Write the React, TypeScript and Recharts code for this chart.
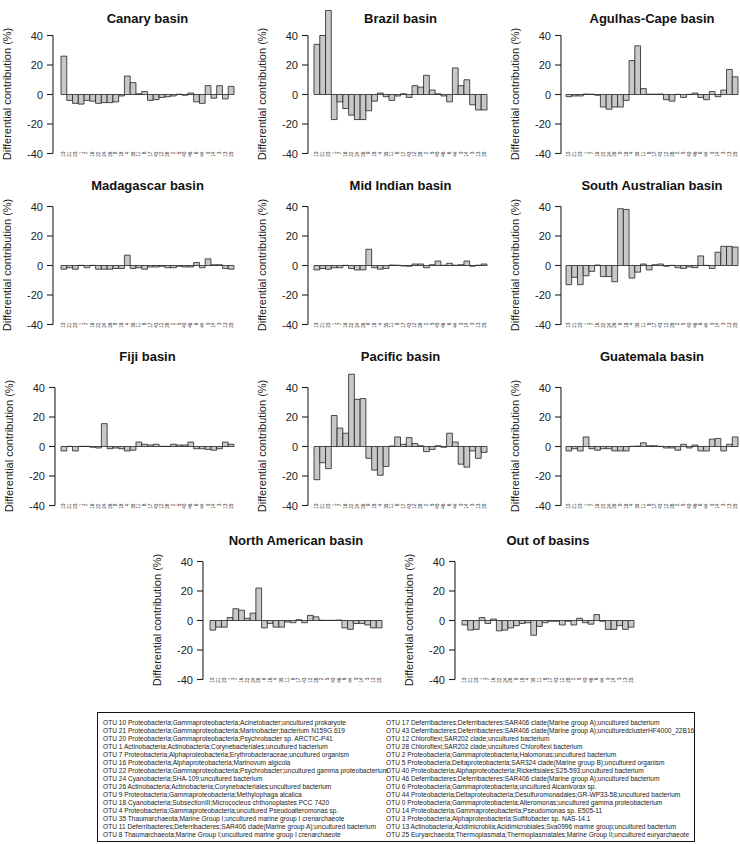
import React from 'react';
import { BarChart, Bar, XAxis, YAxis } from 'recharts';

const otuLabels = ['10','21','20','1','7','16','22','24','26','9','18','4','35','11','8','17','43','12','28','2','5','40','46','6','44','0','14','3','13','25'];
const yTicks = [-40, -20, 0, 20, 40];

const canaryBasin = [26, -4, -6, -6.5, -4, -4.5, -6, -5.5, -5.5, -5, -1, 12.5, 8, 0.5, 2, -4, -3.5, -2, -1.5, -1, 0.2, -0.5, 1, -5, -6, 6, -2.5, 6, -3, 5.5];
const brazilBasin = [34, 40, 57, -17, -5, -9.5, -14, -17, -17, -11, -4.5, 1, -1.5, -4, -1, 0.5, -2, 6, 5, 13, 3, 0.5, -1, -5, 18, 6, 10, -7, -10.5, -10.5];
const agulhasCapeBasin = [-1.5, -1, -1, 0.3, 0.2, -0.5, -8.5, -10, -8.5, -8.5, -4, 23, 33, 4, 0.2, 0.2, 0.3, -3.5, -4.5, 0.1, -2, 0.1, 1, -2, -3.5, 2, -1.5, 3, 17, 12];
const madagascarBasin = [-2.5, -1.5, -2.5, 0.1, -1.5, 0.1, -2.5, -2.5, -2.5, -2, -2, 7, -2, -1.5, -2.5, -1, -1, -0.5, -1.5, -1.5, -0.5, -1, -1, 2, -1.5, 4.5, 0.5, 0.5, -2, -2.5];
const midIndianBasin = [-3, -2, -2.5, -1.5, -1.5, 0.1, -2, -3, -3, 11, -1.5, -2.5, -2, 0.3, 0.2, -0.3, -0.5, 1, 1, -1.5, 0.5, 3, 0.2, 1.5, 0.2, 0.5, 3, -0.5, 0.2, 1];
const southAustralianBasin = [-13, -8, -13, -7, -4, 0.3, -7.5, -7.5, -11, 38.5, 38, -8.5, -4.5, 1, -3, 0.5, 1, -0.5, 0.1, -1.5, -2, -1, -1.5, 6.5, 0.1, -2, 9, 13, 13, 12.5];
const fijiBasin = [-3, 0.1, -3, 0.1, 0.1, -0.5, -1, 15.5, -1.5, -1, -1.5, -3, -2.5, 3, 1.5, 1, 1.5, 0.1, 0.1, 1.5, 1, 1, 3, -1.5, -1.5, -2, -2.5, -1.5, 3, 1.5];
const pacificBasin = [-22.5, -11, -15, 21, 12.5, 9, 49, 32, 32.5, -8, -16, -19.5, -13.5, 0.3, 6.5, 1.5, 6, 2, 0.5, -3.5, -2, 0.5, -0.5, 9, 3, -12, -14, -3, -8, -4];
const guatemalaBasin = [-3, -1.5, -3, 6.5, -1.5, -2.5, -1.5, -1.5, -3, -3, -3, 0.1, 0.3, 2.5, 0.5, 0.5, 0.1, -1, -1, -2.5, 1.5, -1, 1, -3, -3, 5, 5.5, -3, 1.5, 6.5];
const northAmericanBasin = [-6.5, -4.5, -4.5, 2, 8, 7, 1.5, 5, 22, -5, -2, -4.5, -4.5, -1, -1.5, 0.5, -1.5, 3.5, 2.5, 0.2, 0.1, 0.1, 0.3, -5, -6, -2, -2, -3, -5, -5];
const outOfBasins = [-3, -6.5, -6, 2, -2, 1, -7, -6.5, -5, -3.5, -2, -1.5, -10, -4, -1.5, -0.5, -0.5, -3, -0.5, -3, 1.5, -1.5, -2.5, 4, -0.5, -6, -6, -3.5, -6, -4.5];

const legendLeft = [
  'OTU 10 Proteobacteria;Gammaproteobacteria;Acinetobacter;uncultured prokaryote',
  'OTU 21 Proteobacteria;Gammaproteobacteria;Marinobacter;bacterium N159G.619',
  'OTU 20 Proteobacteria;Gammaproteobacteria;Psychrobacter sp. ARCTIC-P41',
  'OTU 1 Actinobacteria;Actinobacteria;Corynebacteriales;uncultured bacterium',
  'OTU 7 Proteobacteria;Alphaproteobacteria;Erythrobacteraceae;uncultured organism',
  'OTU 16 Proteobacteria;Alphaproteobacteria;Marinovum algicola',
  'OTU 22 Proteobacteria;Gammaproteobacteria;Psychrobacter;uncultured gamma proteobacterium',
  'OTU 24 Cyanobacteria;SHA-109;uncultured bacterium',
  'OTU 26 Actinobacteria;Actinobacteria;Corynebacteriales;uncultured bacterium',
  'OTU 9 Proteobacteria;Gammaproteobacteria;Methylophaga alcalica',
  'OTU 18 Cyanobacteria;SubsectionIII;Micrococleus chthonoplastes PCC 7420',
  'OTU 4 Proteobacteria;Gammaproteobacteria;uncultured Pseudoalteromonas sp.',
  'OTU 35 Thaumarchaeota;Marine Group I;uncultured marine group I crenarchaeote',
  'OTU 11 Deferribacteres;Deferribacteres;SAR406 clade(Marine group A);uncultured bacterium',
  'OTU 8 Thaumarchaeota;Marine Group I;uncultured marine group I crenarchaeote',
];
const legendRight = [
  'OTU 17 Deferribacteres;Deferribacteres;SAR406 clade(Marine group A);uncultured bacterium',
  'OTU 43 Deferribacteres;Deferribacteres;SAR406 clade(Marine group A);unculturedclusterHF4000_22B16',
  'OTU 12 Chloroflexi;SAR202 clade;uncultured bacterium',
  'OTU 28 Chloroflexi;SAR202 clade;uncultured Chloroflexi bacterium',
  'OTU 2 Proteobacteria;Gammaproteobacteria;Halomonas;uncultured bacterium',
  'OTU 5 Proteobacteria;Deltaproteobacteria;SAR324 clade(Marine group B);uncultured organism',
  'OTU 40 Proteobacteria;Alphaproteobacteria;Rickettsiales;S25-593;uncultured bacterium',
  'OTU 46 Deferribacteres;Deferribacteres;SAR406 clade(Marine group A);uncultured bacterium',
  'OTU 6 Proteobacteria;Gammaproteobacteria;uncultured Alcanivorax sp.',
  'OTU 44 Proteobacteria;Deltaproteobacteria;Desulfuromonadales;GR-WP33-58;uncultured bacterium',
  'OTU 0 Proteobacteria;Gammaproteobacteria;Alteromonas;uncultured gamma proteobacterium',
  'OTU 14 Proteobacteria;Gammaproteobacteria;Pseudomonas sp. E505-11',
  'OTU 3 Proteobacteria;Alphaproteobacteria;Sulfitobacter sp. NAS-14.1',
  'OTU 13 Actinobacteria;Acidimicrobiia;Acidimicrobiales;Sva0996 marine group;uncultured bacterium',
  'OTU 25 Euryarchaeota;Thermoplasmata;Thermoplasmatales;Marine Group II;uncultured euryarchaeote',
];

const FONT = '"Liberation Sans", Arial, Helvetica, sans-serif';
const PX = 118 / 80;
const YW = 60;
const MT = 2;
const XH = 14;
const TICK_SIZE = 6;
const TICK_MARGIN = 4;

type PanelProps = {
  title: string;
  values: number[];
  axisX: number;
  barsX0: number;
  barsW: number;
  y40: number;
  titleY: number;
};

function Panel({ title, values, axisX, barsX0, barsW, y40, titleY }: PanelProps) {
  const data = otuLabels.map((otu, i) => ({ otu, v: values[i] }));
  const plotTop = y40 - 20 * PX;
  const plotH = 100 * PX;
  const padLeft = barsX0 - axisX;
  const chartW = YW + padLeft + barsW + 2;
  const chartH = MT + plotH + XH;
  const band = barsW / otuLabels.length;
  const step = 20 * PX;

  const yTick = (p: any) => {
    const v = p.payload.value;
    const ax = p.x + TICK_MARGIN + TICK_SIZE;
    return (
      <g>
        <text x={p.x} y={p.y} dy={4} textAnchor="end" fontSize={11} fill="#222" fontFamily={FONT}>
          {v}
        </text>
        {v < 40 && <line x1={ax} y1={p.y} x2={ax} y2={p.y - step} stroke="#222" strokeWidth={1.1} />}
      </g>
    );
  };

  const xTick = (p: any) => (
    <text
      x={p.x}
      y={p.y - 2}
      transform={`rotate(-90 ${p.x} ${p.y - 2})`}
      textAnchor="end"
      dominantBaseline="central"
      fontSize={4.8}
      fill="#333"
      fontFamily={FONT}
    >
      {p.payload.value}
    </text>
  );

  const shape = (p: any) => {
    const y = Math.min(p.y, p.y + p.height);
    const h = Math.abs(p.height);
    return (
      <path
        d={`M${p.x},${y}h${band}v${h}h${-band}Z`}
        fill="#c8c8c8"
        stroke="#222"
        strokeWidth={0.8}
      />
    );
  };

  return (
    <>
      <div
        style={{
          position: 'absolute',
          left: barsX0 - 40,
          width: barsW + 80,
          top: titleY - 9,
          height: 18,
          lineHeight: '18px',
          textAlign: 'center',
          fontFamily: FONT,
          fontWeight: 'bold',
          fontSize: 13,
          color: '#111',
          whiteSpace: 'nowrap',
        }}
      >
        {title}
      </div>
      <div
        style={{
          position: 'absolute',
          left: axisX - 46 - 100,
          top: y40 + 40 * PX - 7,
          width: 200,
          height: 14,
          lineHeight: '14px',
          textAlign: 'center',
          fontFamily: FONT,
          fontSize: 11,
          color: '#222',
          transform: 'rotate(-90deg)',
          whiteSpace: 'nowrap',
        }}
      >
        Differential contribution (%)
      </div>
      <div style={{ position: 'absolute', left: axisX - YW, top: plotTop - MT }}>
        <BarChart
          width={chartW}
          height={chartH}
          data={data}
          margin={{ top: MT, right: 2, left: 0, bottom: 0 }}
          barCategoryGap={0}
          barGap={0}
        >
          <XAxis
            dataKey="otu"
            type="category"
            interval={0}
            height={XH}
            axisLine={false}
            tickLine={false}
            tickSize={0}
            tickMargin={0}
            padding={{ left: padLeft, right: 0 }}
            tick={xTick}
          />
          <YAxis
            type="number"
            domain={[-40, 60]}
            ticks={yTicks}
            width={YW}
            axisLine={false}
            tickLine={{ stroke: '#222', strokeWidth: 1.1 }}
            tickSize={TICK_SIZE}
            tickMargin={TICK_MARGIN}
            tick={yTick}
            interval={0}
          />
          <Bar dataKey="v" isAnimationActive={false} shape={shape} />
        </BarChart>
      </div>
    </>
  );
}

const panels: PanelProps[] = [
  { title: 'Canary basin', values: canaryBasin, axisX: 53, barsX0: 61, barsW: 173, y40: 35, titleY: 19 },
  { title: 'Brazil basin', values: brazilBasin, axisX: 308, barsX0: 314, barsW: 173, y40: 35, titleY: 19 },
  { title: 'Agulhas-Cape basin', values: agulhasCapeBasin, axisX: 561, barsX0: 566, barsW: 172, y40: 35, titleY: 19 },
  { title: 'Madagascar basin', values: madagascarBasin, axisX: 53, barsX0: 61, barsW: 173, y40: 206, titleY: 186 },
  { title: 'Mid Indian basin', values: midIndianBasin, axisX: 308, barsX0: 314, barsW: 173, y40: 206, titleY: 186 },
  { title: 'South Australian basin', values: southAustralianBasin, axisX: 561, barsX0: 566, barsW: 172, y40: 206, titleY: 186 },
  { title: 'Fiji basin', values: fijiBasin, axisX: 55, barsX0: 61, barsW: 173, y40: 387, titleY: 357 },
  { title: 'Pacific basin', values: pacificBasin, axisX: 308, barsX0: 314, barsW: 173, y40: 387, titleY: 357 },
  { title: 'Guatemala basin', values: guatemalaBasin, axisX: 561, barsX0: 566, barsW: 172, y40: 387, titleY: 357 },
  { title: 'North American basin', values: northAmericanBasin, axisX: 203, barsX0: 210, barsW: 172, y40: 561, titleY: 541 },
  { title: 'Out of basins', values: outOfBasins, axisX: 455, barsX0: 462, barsW: 172, y40: 561, titleY: 541 },
];

export default function App() {
  return (
    <div
      style={{
        position: 'absolute',
        left: 0,
        top: 0,
        width: 740,
        height: 844,
        background: '#fff',
        overflow: 'hidden',
        fontFamily: FONT,
      }}
    >
      {panels.map((p) => (
        <Panel key={p.title} {...p} />
      ))}
      <div
        style={{
          position: 'absolute',
          left: 97,
          top: 712,
          width: 598,
          height: 130,
          border: '1.5px solid #111',
          boxSizing: 'border-box',
        }}
      >
        {[legendLeft, legendRight].map((col, ci) => (
          <div key={ci} style={{ position: 'absolute', left: ci === 0 ? 5 : 288, top: 6 }}>
            {col.map((line) => (
              <div
                key={line}
                style={{
                  fontFamily: FONT,
                  fontSize: 6.6,
                  lineHeight: '8px',
                  height: 8,
                  whiteSpace: 'nowrap',
                  color: '#222',
                }}
              >
                {line}
              </div>
            ))}
          </div>
        ))}
      </div>
    </div>
  );
}
